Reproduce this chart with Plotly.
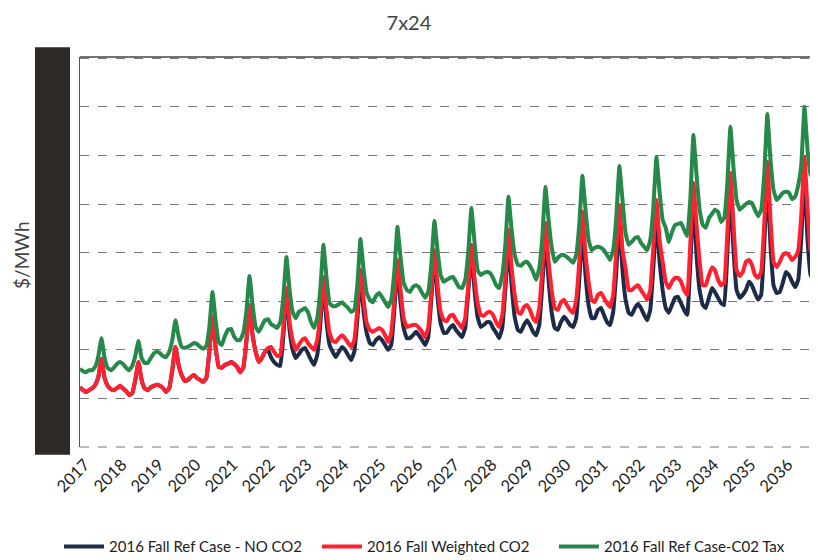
import pandas as pd
import plotly.graph_objects as go

years = list(range(2017, 2037))
year_labels = [str(y) for y in years]
months = pd.date_range("2017-01-01", periods=240, freq="MS")

# Monthly $/MWh, one row per year (Jan..Dec)
no_co2 = [
    22.3, 21.7, 21.3, 21.7, 22.1, 22.8, 24.4, 28.1, 24.2, 22.6, 21.9, 21.7,  # 2017
    22.1, 22.6, 22.1, 21.5, 20.7, 21.1, 23.8, 27.5, 23.8, 22.1, 21.7, 22.3,  # 2018
    22.6, 22.8, 22.6, 22.1, 21.3, 22.1, 25.8, 30.6, 26.9, 24.8, 23.6, 23.8,  # 2019
    24.4, 24.8, 24.2, 23.8, 23.4, 24.2, 29.6, 36.8, 30.4, 26.5, 26.3, 26.9,  # 2020
    27.1, 27.5, 27.1, 26.5, 25.4, 26.3, 31.6, 39.2, 33.0, 29.6, 27.5, 28.3,  # 2021
    29.6, 30.0, 28.5, 27.5, 26.9, 26.7, 32.6, 41.9, 34.1, 30.0, 28.3, 29.1,  # 2022
    30.0, 30.4, 29.3, 27.9, 26.9, 28.9, 35.1, 44.0, 35.7, 31.0, 29.6, 28.5,  # 2023
    29.6, 30.6, 30.0, 28.9, 27.9, 29.6, 36.1, 45.2, 37.8, 33.5, 31.4, 31.0,  # 2024
    32.0, 32.6, 32.0, 31.0, 30.0, 31.0, 38.2, 47.3, 39.6, 34.5, 32.4, 32.4,  # 2025
    33.0, 33.7, 33.0, 32.0, 31.0, 32.6, 40.3, 49.3, 40.9, 35.5, 33.5, 33.5,  # 2026
    34.5, 35.1, 34.1, 33.3, 32.6, 34.5, 41.9, 50.1, 42.3, 36.8, 34.7, 35.1,  # 2027
    35.7, 35.7, 34.5, 33.5, 32.4, 34.5, 42.3, 52.0, 43.3, 36.8, 34.1, 33.7,  # 2028
    35.1, 36.1, 35.1, 33.7, 33.0, 35.1, 43.3, 53.0, 44.4, 37.8, 34.5, 34.1,  # 2029
    35.7, 36.8, 36.1, 35.1, 34.7, 36.5, 44.4, 54.7, 45.4, 39.2, 36.5, 36.5,  # 2030
    38.2, 38.6, 37.2, 35.7, 35.1, 37.8, 46.0, 56.3, 46.4, 40.3, 37.6, 37.2,  # 2031
    38.6, 39.4, 38.6, 37.2, 36.1, 38.2, 46.8, 57.3, 48.1, 42.3, 38.6, 37.6,  # 2032
    39.2, 40.7, 40.9, 39.6, 38.2, 37.2, 47.5, 60.8, 49.5, 42.3, 39.2, 38.6,  # 2033
    40.7, 42.7, 41.9, 40.7, 39.6, 39.2, 49.5, 62.9, 50.5, 42.3, 40.7, 41.3,  # 2034
    42.3, 44.0, 43.3, 41.7, 40.3, 41.3, 51.6, 65.0, 51.6, 43.3, 41.7, 41.9,  # 2035
    43.8, 46.0, 45.4, 44.0, 42.9, 44.4, 53.0, 66.0, 52.6, 45.4, 44.4, 44.0,  # 2036
]

weighted_co2 = [
    22.3, 21.7, 21.3, 21.7, 22.1, 22.8, 24.4, 28.1, 24.2, 22.6, 21.9, 21.7,  # 2017
    22.1, 22.6, 22.1, 21.5, 20.7, 21.1, 23.8, 27.5, 23.8, 22.1, 21.7, 22.3,  # 2018
    22.6, 22.8, 22.6, 22.1, 21.3, 22.1, 25.8, 30.6, 26.9, 24.8, 23.6, 23.8,  # 2019
    24.4, 24.8, 24.2, 23.8, 23.4, 24.2, 29.6, 36.8, 30.4, 26.5, 26.3, 26.9,  # 2020
    27.1, 27.5, 27.1, 26.5, 25.4, 26.3, 31.6, 39.2, 33.0, 29.6, 27.5, 28.3,  # 2021
    29.6, 30.4, 30.6, 29.6, 28.7, 28.9, 34.5, 42.7, 35.7, 32.0, 30.0, 31.0,  # 2022
    32.0, 32.4, 31.4, 30.6, 30.0, 32.0, 37.2, 45.0, 38.2, 33.5, 31.8, 31.6,  # 2023
    32.4, 33.0, 32.4, 31.4, 30.6, 32.0, 38.2, 46.4, 40.3, 35.5, 34.1, 33.7,  # 2024
    34.1, 34.5, 34.1, 33.0, 31.6, 33.5, 40.3, 48.5, 42.3, 36.5, 34.7, 34.9,  # 2025
    35.1, 35.1, 34.5, 33.7, 32.6, 34.5, 41.9, 50.5, 43.3, 37.8, 36.1, 35.9,  # 2026
    37.0, 37.2, 36.1, 35.3, 34.5, 36.5, 43.3, 51.6, 44.8, 39.6, 37.2, 37.0,  # 2027
    37.6, 37.8, 37.2, 35.7, 34.7, 37.2, 44.4, 54.7, 46.8, 41.3, 37.8, 37.4,  # 2028
    38.8, 39.2, 38.2, 36.5, 35.7, 38.6, 46.4, 56.1, 48.1, 42.3, 38.6, 38.2,  # 2029
    39.8, 40.3, 39.2, 38.2, 37.6, 40.3, 48.1, 58.4, 49.5, 44.0, 40.3, 39.8,  # 2030
    41.3, 41.7, 40.7, 39.6, 38.8, 41.3, 50.1, 59.8, 50.5, 46.8, 42.3, 42.3,  # 2031
    42.9, 43.3, 42.3, 41.3, 40.3, 42.3, 51.0, 60.8, 52.6, 48.1, 44.0, 42.7,  # 2032
    44.0, 44.8, 44.8, 44.0, 42.3, 41.3, 51.6, 64.3, 55.7, 48.1, 43.3, 43.3,  # 2033
    45.4, 47.0, 46.4, 44.4, 43.3, 43.8, 53.6, 66.4, 55.7, 46.4, 45.2, 46.0,  # 2034
    48.1, 48.5, 47.5, 45.4, 44.8, 46.0, 55.7, 68.7, 56.7, 48.1, 47.0, 48.1,  # 2035
    49.5, 49.9, 49.5, 48.5, 49.1, 50.5, 57.7, 69.7, 58.8, 50.5, 49.7, 49.1,  # 2036
]

co2_tax = [
    26.1, 25.6, 25.4, 25.8, 25.8, 26.5, 28.7, 32.4, 28.3, 26.3, 25.8, 26.3,  # 2017
    27.1, 27.5, 27.1, 26.3, 25.8, 26.7, 28.7, 31.8, 28.3, 27.3, 27.3, 28.3,  # 2018
    29.3, 29.6, 29.3, 28.7, 28.5, 29.6, 32.0, 36.1, 32.8, 30.6, 30.4, 30.6,  # 2019
    31.0, 31.4, 31.2, 30.6, 30.2, 30.8, 34.7, 41.9, 36.1, 31.6, 31.0, 32.8,  # 2020
    34.1, 34.3, 32.8, 32.0, 32.0, 33.5, 37.8, 45.2, 39.2, 34.7, 33.7, 34.9,  # 2021
    36.1, 36.3, 35.3, 34.9, 34.5, 35.7, 40.7, 49.1, 42.3, 37.8, 36.5, 37.8,  # 2022
    38.2, 38.6, 37.8, 35.7, 34.5, 36.5, 42.3, 51.6, 44.8, 39.6, 39.0, 39.0,  # 2023
    39.4, 39.8, 39.2, 38.6, 37.8, 38.2, 43.3, 52.8, 46.4, 41.7, 40.3, 39.8,  # 2024
    41.1, 41.7, 40.9, 39.8, 38.8, 40.3, 46.0, 55.3, 48.9, 43.8, 42.3, 41.9,  # 2025
    42.9, 43.3, 42.9, 41.7, 40.7, 41.9, 47.5, 56.5, 50.5, 45.4, 44.0, 44.4,  # 2026
    44.8, 45.0, 44.0, 42.9, 42.7, 44.4, 50.1, 59.2, 52.2, 46.4, 45.4, 45.8,  # 2027
    46.0, 45.8, 44.8, 43.3, 42.7, 45.4, 51.6, 61.5, 54.7, 49.5, 47.5, 47.3,  # 2028
    47.9, 48.1, 47.3, 46.0, 44.4, 46.8, 53.2, 63.5, 56.7, 51.2, 48.1, 48.9,  # 2029
    49.5, 49.5, 49.1, 48.5, 47.9, 49.5, 55.7, 65.8, 58.8, 52.6, 50.5, 51.0,  # 2030
    51.2, 51.0, 50.5, 49.5, 48.5, 50.5, 57.1, 67.8, 60.8, 54.0, 51.6, 52.2,  # 2031
    53.0, 53.2, 52.0, 51.2, 50.5, 52.6, 59.2, 69.7, 62.5, 56.7, 55.1, 52.2,  # 2032
    54.2, 55.7, 55.9, 56.1, 54.7, 53.4, 60.8, 74.2, 66.0, 58.8, 55.7, 55.1,  # 2033
    57.1, 58.0, 58.8, 58.4, 56.3, 57.1, 63.9, 75.9, 67.4, 60.8, 58.8, 59.4,  # 2034
    60.0, 60.4, 60.2, 58.8, 57.5, 58.8, 66.0, 78.5, 69.1, 62.9, 60.8, 61.5,  # 2035
    62.3, 62.5, 62.3, 61.0, 61.5, 63.9, 68.0, 80.0, 71.1, 66.0, 65.4, 64.3,  # 2036
]

series_names = [
    "2016 Fall Ref Case - NO CO2",
    "2016 Fall Weighted CO2",
    "2016 Fall Ref Case-C02 Tax",
]
series_colors = ["#1d2b48", "#ff2030", "#26894a"]
series_values = [no_co2, weighted_co2, co2_tax]
legend_ids = ["legend", "legend2", "legend3"]
legend_x = [0.063, 0.3815, 0.674]

FONT = "Lato, 'Open Sans', sans-serif"

fig = go.Figure()
for name, color, vals, lg in zip(series_names, series_colors, series_values, legend_ids):
    fig.add_trace(go.Scatter(
        x=months, y=vals, name=name, mode="lines", legend=lg,
        line=dict(color=color, width=4, shape="spline", smoothing=0.3),
    ))

tick_dates = [pd.Timestamp(f"{y}-01-01") for y in years]

legend_style = dict(orientation="h", xref="container", yref="container",
                    xanchor="left", y=0.024, yanchor="middle",
                    font=dict(size=15, color="#222", family=FONT),
                    itemwidth=40, bgcolor="rgba(0,0,0,0)")

# page body has an 8px margin, so the figure is sized to fit the 818x560 window
fig.update_layout(
    width=810, height=552,
    margin=dict(l=72, r=0, t=49, b=113, autoexpand=False),
    paper_bgcolor="white", plot_bgcolor="white",
    font=dict(family=FONT, color="#222"),
    title=dict(text="7x24", x=0.495, xanchor="center", y=0.972, yanchor="middle",
               font=dict(size=20, color="#444", family=FONT)),
    showlegend=True,
    legend=dict(x=legend_x[0], **legend_style),
    legend2=dict(x=legend_x[1], **legend_style),
    legend3=dict(x=legend_x[2], **legend_style),
    xaxis=dict(
        type="date", automargin=False,
        range=["2017-01-01", "2036-12-13"],
        tickvals=tick_dates, ticktext=year_labels,
        tickangle=-45, tickfont=dict(size=16.5, color="#222", family=FONT),
        ticklabelshift=5, ticklabelstandoff=4,
        showgrid=False, ticks="",
        showline=False, zeroline=False,
    ),
    yaxis=dict(
        automargin=False,
        range=[10, 90.25], dtick=10, tick0=10,
        showticklabels=False, ticks="",
        showgrid=True, gridcolor="#777", gridwidth=1, griddash="dash",
        showline=True, linecolor="#555", linewidth=1.2,
        zeroline=False,
    ),
)

# plot-area top border and dashed bottom edge
fig.add_shape(type="line", xref="paper", yref="paper", x0=0, x1=1, y0=1, y1=1,
              line=dict(color="#444", width=1.3))
fig.add_shape(type="line", xref="paper", yref="paper", x0=0, x1=1, y0=0, y1=0,
              line=dict(color="#777", width=1, dash="dash"))

# y-axis title
fig.add_annotation(
    text="$/MWh", textangle=-90, xref="paper", yref="paper",
    x=0, y=0.49, xshift=-58, xanchor="center", yanchor="middle",
    showarrow=False, font=dict(size=19, color="#444", family=FONT),
)

# dark redaction bar over the y tick labels
fig.add_shape(
    type="rect", xref="paper", yref="paper",
    x0=-0.061, x1=-0.0135, y0=-0.02, y1=1.025,
    fillcolor="#2c2926", line=dict(width=0), layer="above",
)

fig.write_html("out.html")
